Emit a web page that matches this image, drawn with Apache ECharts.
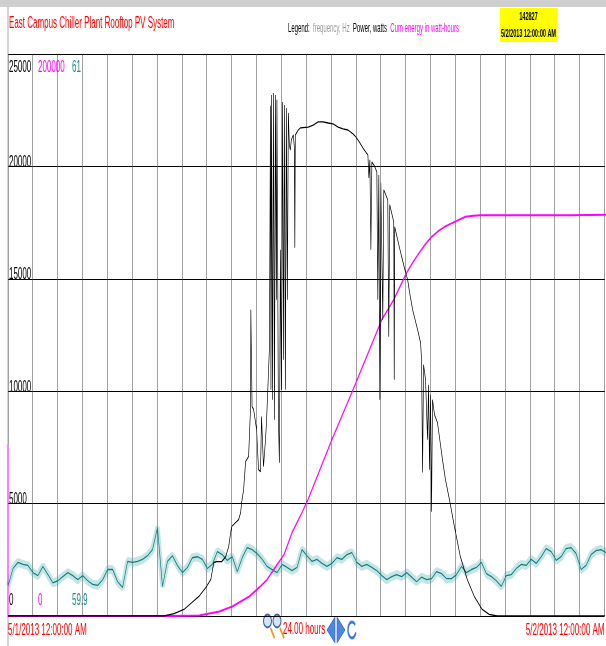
<!DOCTYPE html>
<html>
<head>
<meta charset="utf-8">
<script src="https://cdn.jsdelivr.net/npm/echarts@6/dist/echarts.min.js"></script>
<style>
html, body { margin: 0; padding: 0; overflow: hidden; background: #fff; }
/* the source screenshot is squeezed horizontally, so draw at double width and squeeze it back */
#chart { width: 1212px; height: 646px; transform: scaleX(0.5); transform-origin: 0 0; }
</style>
</head>
<body>
<div id="chart"></div>
<script>
const HOURS = 24;
const FREQ_STEP_H = 0.2;
const dayLabels = ['5/1/2013 12:00:00 AM', '5/2/2013 12:00:00 AM'];
const powerRange = [0, 25000, 5000];
const energyRange = [0, 200000];
const freqRange = [59.9, 61];

// grid frequency, Hz, one reading every 0.2 h
const freqHz = [
  59.958, 59.993, 60.005, 60.001, 59.999, 59.985, 59.979, 59.997, 59.981, 59.965,
  59.969, 59.977, 59.985, 59.979, 59.971, 59.979, 59.969, 59.962, 59.960, 59.971,
  59.991, 59.991, 59.967, 59.956, 60.007, 60.005, 60.007, 60.011, 60.018, 60.030,
  60.073, 59.958, 60.007, 60.018, 59.999, 59.985, 59.995, 60.014, 60.016, 60.011,
  59.993, 60.001, 60.026, 60.020, 60.009, 60.016, 59.987, 60.014, 60.034, 60.030,
  60.022, 60.011, 59.997, 59.991, 59.985, 60.001, 59.995, 59.989, 59.995, 60.030,
  60.018, 60.007, 60.011, 60.003, 59.997, 60.003, 60.014, 60.011, 60.020, 60.024,
  60.005, 59.997, 60.001, 59.995, 59.989, 59.979, 59.971, 59.977, 59.981, 59.977,
  59.985, 59.976, 59.967, 59.976, 59.971, 59.973, 59.987, 59.983, 59.973, 59.973,
  59.981, 59.997, 59.985, 59.991, 59.995, 60.005, 59.983, 59.977, 59.969, 59.958,
  59.979, 59.981, 59.993, 60.001, 59.999, 60.011, 60.003, 60.016, 60.032, 60.026,
  60.009, 60.016, 60.032, 60.034, 60.022, 59.991, 59.999, 60.020, 60.028, 60.030,
  60.024
];

// [hour, watts]
const powerReadings = [
  [0, 0], [6.28, 0], [6.68, 110], [7.08, 290], [7.40, 600], [7.68, 870], [7.96, 1270], [8.16, 1620],
  [8.28, 2380], [8.40, 2420], [8.60, 2420], [8.76, 2640], [8.88, 3090], [8.96, 3710], [9.00, 3980],
  [9.16, 4160], [9.28, 4290], [9.36, 4600], [9.40, 5040], [9.48, 5620], [9.56, 6870], [9.68, 7090],
  [9.76, 9310], [9.77, 13620], [9.80, 11090], [9.82, 9310], [9.88, 9200], [10.00, 8310], [10.08, 6510],
  [10.16, 6420], [10.20, 8870], [10.28, 6640], [10.36, 7840], [10.40, 8600], [10.48, 10820], [10.52, 11980],
  [10.56, 22700], [10.58, 10070], [10.60, 23180], [10.64, 9620], [10.68, 23270], [10.72, 8730], [10.76, 23180],
  [10.80, 14070], [10.82, 22960], [10.88, 8730], [10.92, 6820], [10.96, 16290], [11.00, 10070], [11.04, 22870],
  [11.08, 11400], [11.12, 22730], [11.16, 10070], [11.20, 22600], [11.24, 14070], [11.28, 22380], [11.32, 20950],
  [11.36, 20730], [11.40, 21180], [11.48, 21400], [11.52, 20870], [11.54, 16380], [11.56, 21400], [11.68, 21620],
  [11.76, 21710], [12.08, 21750], [12.28, 21840], [12.48, 21980], [12.68, 21980], [12.88, 21930], [13.08, 21890],
  [13.28, 21750], [13.48, 21670], [13.68, 21620], [13.88, 21450], [14.00, 21310], [14.16, 21040], [14.28, 20820],
  [14.48, 20510], [14.52, 19490], [14.56, 20290], [14.60, 16290], [14.64, 20200], [14.76, 19980], [14.84, 19760],
  [14.88, 14070], [14.92, 19620], [14.96, 9620], [15.00, 19270], [15.08, 13180], [15.12, 18960], [15.20, 18730],
  [15.28, 18510], [15.32, 12420], [15.36, 18290], [15.52, 17530], [15.54, 10510], [15.56, 17310], [15.68, 16730],
  [15.80, 16160], [15.92, 15620], [16.00, 15270], [16.08, 14960], [16.16, 14380], [16.28, 13620], [16.48, 12730],
  [16.60, 12150], [16.64, 11400], [16.68, 6380], [16.72, 11180], [16.80, 10510], [16.88, 7840], [16.92, 10290],
  [16.96, 6510], [17.00, 9840], [17.04, 4640], [17.08, 9620], [17.16, 8960], [17.28, 8600], [17.40, 7620],
  [17.48, 6960], [17.60, 6070], [17.76, 5180], [17.96, 3980], [18.20, 2640], [18.48, 1620], [18.76, 870],
  [19.08, 290], [19.36, 70], [19.68, 0], [24, 0]
];

// [hour, cumulative watt-hours]
const energyReadings = [
  [0, 61000], [0, 0], [6.48, 0], [7.68, 180], [8.48, 1600], [9.00, 3380], [9.68, 6930], [10.08, 10130],
  [10.40, 12980], [10.80, 18300], [11.08, 21870], [11.40, 29690], [11.80, 36800], [12.04, 41420],
  [13.00, 62760], [13.80, 79470], [15.00, 105420], [15.48, 112530], [16.00, 122140], [16.24, 125690],
  [16.48, 128900], [16.76, 132450], [17.00, 134930], [17.28, 137070], [17.52, 138490], [17.68, 139200],
  [18.00, 140620], [18.36, 142050], [18.68, 142400], [19.00, 142580], [22.56, 142600], [22.60, 142827],
  [24, 142827]
];

const FONT = '"Liberation Sans", Arial, Helvetica, sans-serif';
const plotRect = { left: 16, top: 54, width: 1200, height: 562 };

const freqData = freqHz.map((v, i) => [i * FREQ_STEP_H, v]);
const energyTotal = energyReadings[energyReadings.length - 1][1];

// labels sit inside the plot: top one under its line, bottom one lifted, others on their line
function edgeLabels(min, max, margin, color, showInner) {
  const base = { fontSize: 16, fontFamily: FONT, color: color };
  const fmt = v => String(+Number(v).toFixed(3));
  return {
    inside: true,
    margin: margin,
    verticalAlign: 'middle',
    color: color,
    fontSize: 16,
    fontFamily: FONT,
    showMinLabel: true,
    showMaxLabel: true,
    formatter: function (v) {
      if (Math.abs(v - max) < 1e-6) return '{top|' + fmt(v) + '}';
      if (Math.abs(v - min) < 1e-6) return '{bot|' + fmt(v) + '}';
      return showInner ? '{mid|' + fmt(v) + '}' : '';
    },
    rich: {
      top: Object.assign({ padding: [27, 0, 0, 0] }, base),
      bot: Object.assign({ padding: [0, 0, 31, 0] }, base),
      mid: Object.assign({ padding: [0, 0, 8, 0] }, base)
    }
  };
}

function hiddenX(gridIndex) {
  return { type: 'value', gridIndex: gridIndex, min: 0, max: HOURS, show: false };
}

const myChart = echarts.init(document.getElementById('chart'));

const option = {
  backgroundColor: '#fff',
  animation: false,
  grid: [plotRect, plotRect, plotRect],
  xAxis: [
    {
      type: 'value',
      gridIndex: 0,
      min: 0,
      max: HOURS,
      interval: 1,
      axisLine: { lineStyle: { color: '#000', width: 1 } },
      axisTick: { show: false },
      splitLine: { lineStyle: { color: '#444', width: 1 } },
      axisLabel: {
        color: '#ff0000',
        fontSize: 16,
        fontFamily: FONT,
        margin: 7,
        alignMinLabel: 'left',
        alignMaxLabel: 'right',
        showMinLabel: true,
        showMaxLabel: true,
        formatter: function (v) {
          if (v === 0) return dayLabels[0];
          if (v === HOURS) return dayLabels[1];
          return '';
        }
      }
    },
    hiddenX(1),
    hiddenX(2)
  ],
  yAxis: [
    {
      type: 'value',
      gridIndex: 0,
      min: powerRange[0],
      max: powerRange[1],
      interval: powerRange[2],
      axisLine: { show: false },
      axisTick: { show: false },
      splitLine: { lineStyle: { color: '#000', width: 1 } },
      axisLabel: edgeLabels(powerRange[0], powerRange[1], 2, '#000', true)
    },
    {
      type: 'value',
      gridIndex: 1,
      min: energyRange[0],
      max: energyRange[1],
      interval: energyRange[1] - energyRange[0],
      axisLine: { show: false },
      axisTick: { show: false },
      splitLine: { show: false },
      axisLabel: edgeLabels(energyRange[0], energyRange[1], 60, '#ff00ff', false)
    },
    {
      type: 'value',
      gridIndex: 2,
      min: freqRange[0],
      max: freqRange[1],
      axisLine: { show: false },
      axisTick: { show: false },
      splitLine: { show: false },
      axisLabel: edgeLabels(freqRange[0], freqRange[1], 128, '#1a8a8a', false)
    }
  ],
  series: [
    {
      name: 'frequency band',
      type: 'line',
      xAxisIndex: 2,
      yAxisIndex: 2,
      data: freqData,
      symbol: 'none',
      silent: true,
      lineStyle: { color: 'rgba(60,170,170,0.3)', width: 9 }
    },
    {
      name: 'frequency, Hz',
      type: 'line',
      xAxisIndex: 2,
      yAxisIndex: 2,
      data: freqData,
      symbol: 'none',
      lineStyle: { color: '#137c7c', width: 1.3 }
    },
    {
      name: 'Cum energy in watt-hours',
      type: 'line',
      xAxisIndex: 1,
      yAxisIndex: 1,
      data: energyReadings,
      symbol: 'none',
      lineStyle: { color: '#ff00ff', width: 2 }
    },
    {
      name: 'Power, watts',
      type: 'line',
      xAxisIndex: 0,
      yAxisIndex: 0,
      data: powerReadings,
      symbol: 'none',
      lineStyle: { color: '#000', width: 1.3 }
    }
  ],
  graphic: [
    { type: 'rect', silent: true, shape: { x: 0, y: 0, width: 1212, height: 7 }, style: { fill: '#cfcfcf' } },
    { type: 'line', silent: true, shape: { x1: 16, y1: 7, x2: 16, y2: 646 }, style: { stroke: '#555', lineWidth: 1 } },
    {
      type: 'text', x: 18, y: 24,
      style: { text: 'East Campus Chiller Plant Rooftop PV System', fill: '#ff0000', fontSize: 16, fontFamily: FONT, verticalAlign: 'middle' }
    },
    {
      type: 'text', x: 576, y: 29,
      style: {
        text: '{k|Legend:}  {f|frequency, Hz}  {p|Power, watts}  {c|Cum energy in watt-hours}',
        fontSize: 12, fontFamily: FONT, verticalAlign: 'middle',
        rich: {
          k: { fill: '#000', fontSize: 12, fontFamily: FONT },
          f: { fill: '#9a9a9a', fontSize: 12, fontFamily: FONT },
          p: { fill: '#000', fontSize: 12, fontFamily: FONT },
          c: { fill: '#ff00ff', fontSize: 12, fontFamily: FONT }
        }
      }
    },
    { type: 'rect', silent: true, shape: { x: 1000, y: 8, width: 114, height: 34 }, style: { fill: '#ffff00' } },
    {
      type: 'text', x: 1057, y: 17,
      style: { text: String(energyTotal), fill: '#000', fontSize: 11, fontWeight: 'bold', fontFamily: FONT, align: 'center', verticalAlign: 'middle' }
    },
    {
      type: 'text', x: 1057, y: 34,
      style: { text: dayLabels[1], fill: '#000', fontSize: 11, fontWeight: 'bold', fontFamily: FONT, align: 'center', verticalAlign: 'middle' }
    },
    // zoom toolbar under the axis
    { type: 'line', silent: true, shape: { x1: 541, y1: 628, x2: 549, y2: 638 }, style: { stroke: '#f09a20', lineWidth: 3 } },
    { type: 'ellipse', silent: true, shape: { cx: 535, cy: 621, rx: 8, ry: 6.5 }, style: { fill: '#d6e4f6', stroke: '#3b63a8', lineWidth: 2 } },
    { type: 'line', silent: true, shape: { x1: 560, y1: 628, x2: 568, y2: 638 }, style: { stroke: '#f09a20', lineWidth: 3 } },
    { type: 'ellipse', silent: true, shape: { cx: 554, cy: 621, rx: 8, ry: 6.5 }, style: { fill: '#d6e4f6', stroke: '#3b63a8', lineWidth: 2 } },
    {
      type: 'text', x: 566, y: 630,
      style: { text: HOURS.toFixed(2) + ' hours', fill: '#ff0000', fontSize: 16, fontFamily: FONT, verticalAlign: 'middle' }
    },
    { type: 'polygon', silent: true, shape: { points: [[654, 630], [670, 617], [670, 643]] }, style: { fill: '#4a86e8', stroke: '#2a5bb8', lineWidth: 1 } },
    { type: 'polygon', silent: true, shape: { points: [[674, 617], [674, 643], [690, 630]] }, style: { fill: '#4a86e8', stroke: '#2a5bb8', lineWidth: 1 } },
    { type: 'arc', silent: true, shape: { cx: 704, cy: 630, r: 8, startAngle: 0.3, endAngle: 5.6 }, style: { stroke: '#3a78d8', lineWidth: 3, fill: null } }
  ]
};

myChart.setOption(option);
</script>
</body>
</html>
